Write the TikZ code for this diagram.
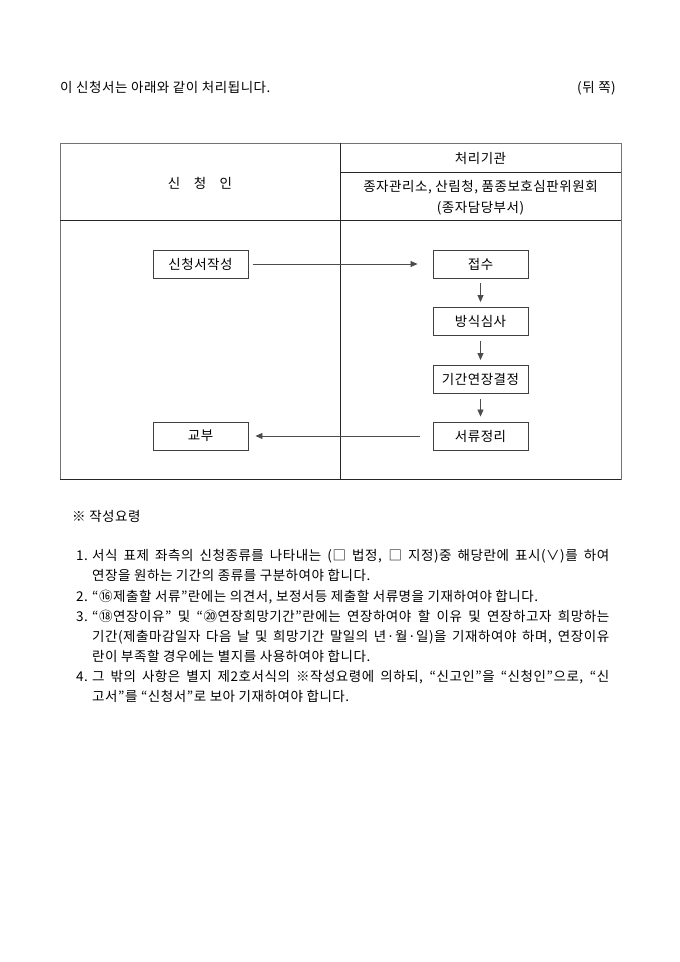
\documentclass[tikz,border=0pt]{standalone}
\usepackage{fontspec}
\setmainfont[LetterSpace=4]{Noto Sans CJK KR}
\usetikzlibrary{arrows.meta}
\begin{document}
\begin{tikzpicture}[x=1pt,y=-1pt,
  font=\fontsize{13.5}{16}\selectfont,
  box/.style={draw=black!75, line width=0.9pt, minimum width=95pt, minimum height=28pt, inner sep=0pt},
  flow/.style={draw=black!70, line width=0.8pt, -{Triangle[length=7pt,width=6pt]}},
  txt/.style={anchor=base west, inner sep=0pt},
  rtxt/.style={anchor=base east, inner sep=0pt},
  ctxt/.style={anchor=base, inner sep=0pt},
  frame/.style={draw=black!55, line width=1pt},
  rule/.style={draw=black!85, line width=1pt}]
\useasboundingbox[fill=white] (0,0) rectangle (680,962);

% heading
\node[txt] (intro) at (60,92) {이 신청서는 아래와 같이 처리됩니다.};
\node[rtxt] (side) at (616,92) {(뒤 쪽)};

% table
\draw[frame] (60,143) rectangle (621,479);
\draw[rule] (340,143) -- (340,479);
\draw[rule] (340,172) -- (621,172);
\draw[rule] (60,220) -- (621,220);
\draw[rule] (60,479) -- (621,479);

\node[ctxt] (org) at (480.5,163) {처리기관};
\node[ctxt] (orgs) at (480.5,191) {종자관리소, 산림청, 품종보호심판위원회};
\node[ctxt] (dept) at (480.5,212) {(종자담당부서)};
\node[ctxt] (appl) at (200,188) {신\hspace{1em}청\hspace{1em}인};

% flow
\node[box] (write) at (200.5,264) {신청서작성};
\node[box] (recv)  at (480.5,264) {접수};
\node[box] (check) at (480.5,321.5) {방식심사};
\node[box] (ext)   at (480.5,379.5) {기간연장결정};
\node[box] (sort)  at (480.5,436) {서류정리};
\node[box] (give)  at (200.5,436) {교부};

\draw[flow, shorten <=5pt, shorten >=15pt] (write) -- (recv);
\draw[flow, shorten <=5pt, shorten >=5pt] (recv) -- (check);
\draw[flow, shorten <=5pt, shorten >=5pt] (check) -- (ext);
\draw[flow, shorten <=5pt, shorten >=5pt] (ext) -- (sort);
\draw[flow, shorten <=13pt, shorten >=7pt] (sort) -- (give);

% notes
\node[txt] (nhead) at (72,521) {※ 작성요령};
\node[txt] (l1) at (76,560) {1.};
\node[txt] (n1a) at (92,560) {\makebox[517pt][s]{서식 표제 좌측의 신청종류를 나타내는 (□ 법정, □ 지정)중 해당란에 표시(∨)를 하여}};
\node[txt] (n1b) at (92,580) {연장을 원하는 기간의 종류를 구분하여야 합니다.};
\node[txt] (l2) at (76,601) {2.};
\node[txt] (n2)  at (92,601) {“⑯제출할 서류”란에는 의견서, 보정서등 제출할 서류명을 기재하여야 합니다.};
\node[txt] (l3) at (76,621) {3.};
\node[txt] (n3a) at (92,621) {\makebox[517pt][s]{“⑱연장이유” 및 “⑳연장희망기간”란에는 연장하여야 할 이유 및 연장하고자 희망하는}};
\node[txt] (n3b) at (92,641) {\makebox[517pt][s]{기간(제출마감일자 다음 날 및 희망기간 말일의 년·월·일)을 기재하여야 하며, 연장이유}};
\node[txt] (n3c) at (92,661) {란이 부족할 경우에는 별지를 사용하여야 합니다.};
\node[txt] (l4) at (76,681) {4.};
\node[txt] (n4a) at (92,681) {\makebox[517pt][s]{그 밖의 사항은 별지 제2호서식의 ※작성요령에 의하되, “신고인”을 “신청인”으로, “신}};
\node[txt] (n4b) at (92,701) {고서”를 “신청서”로 보아 기재하여야 합니다.};
\end{tikzpicture}
\end{document}
